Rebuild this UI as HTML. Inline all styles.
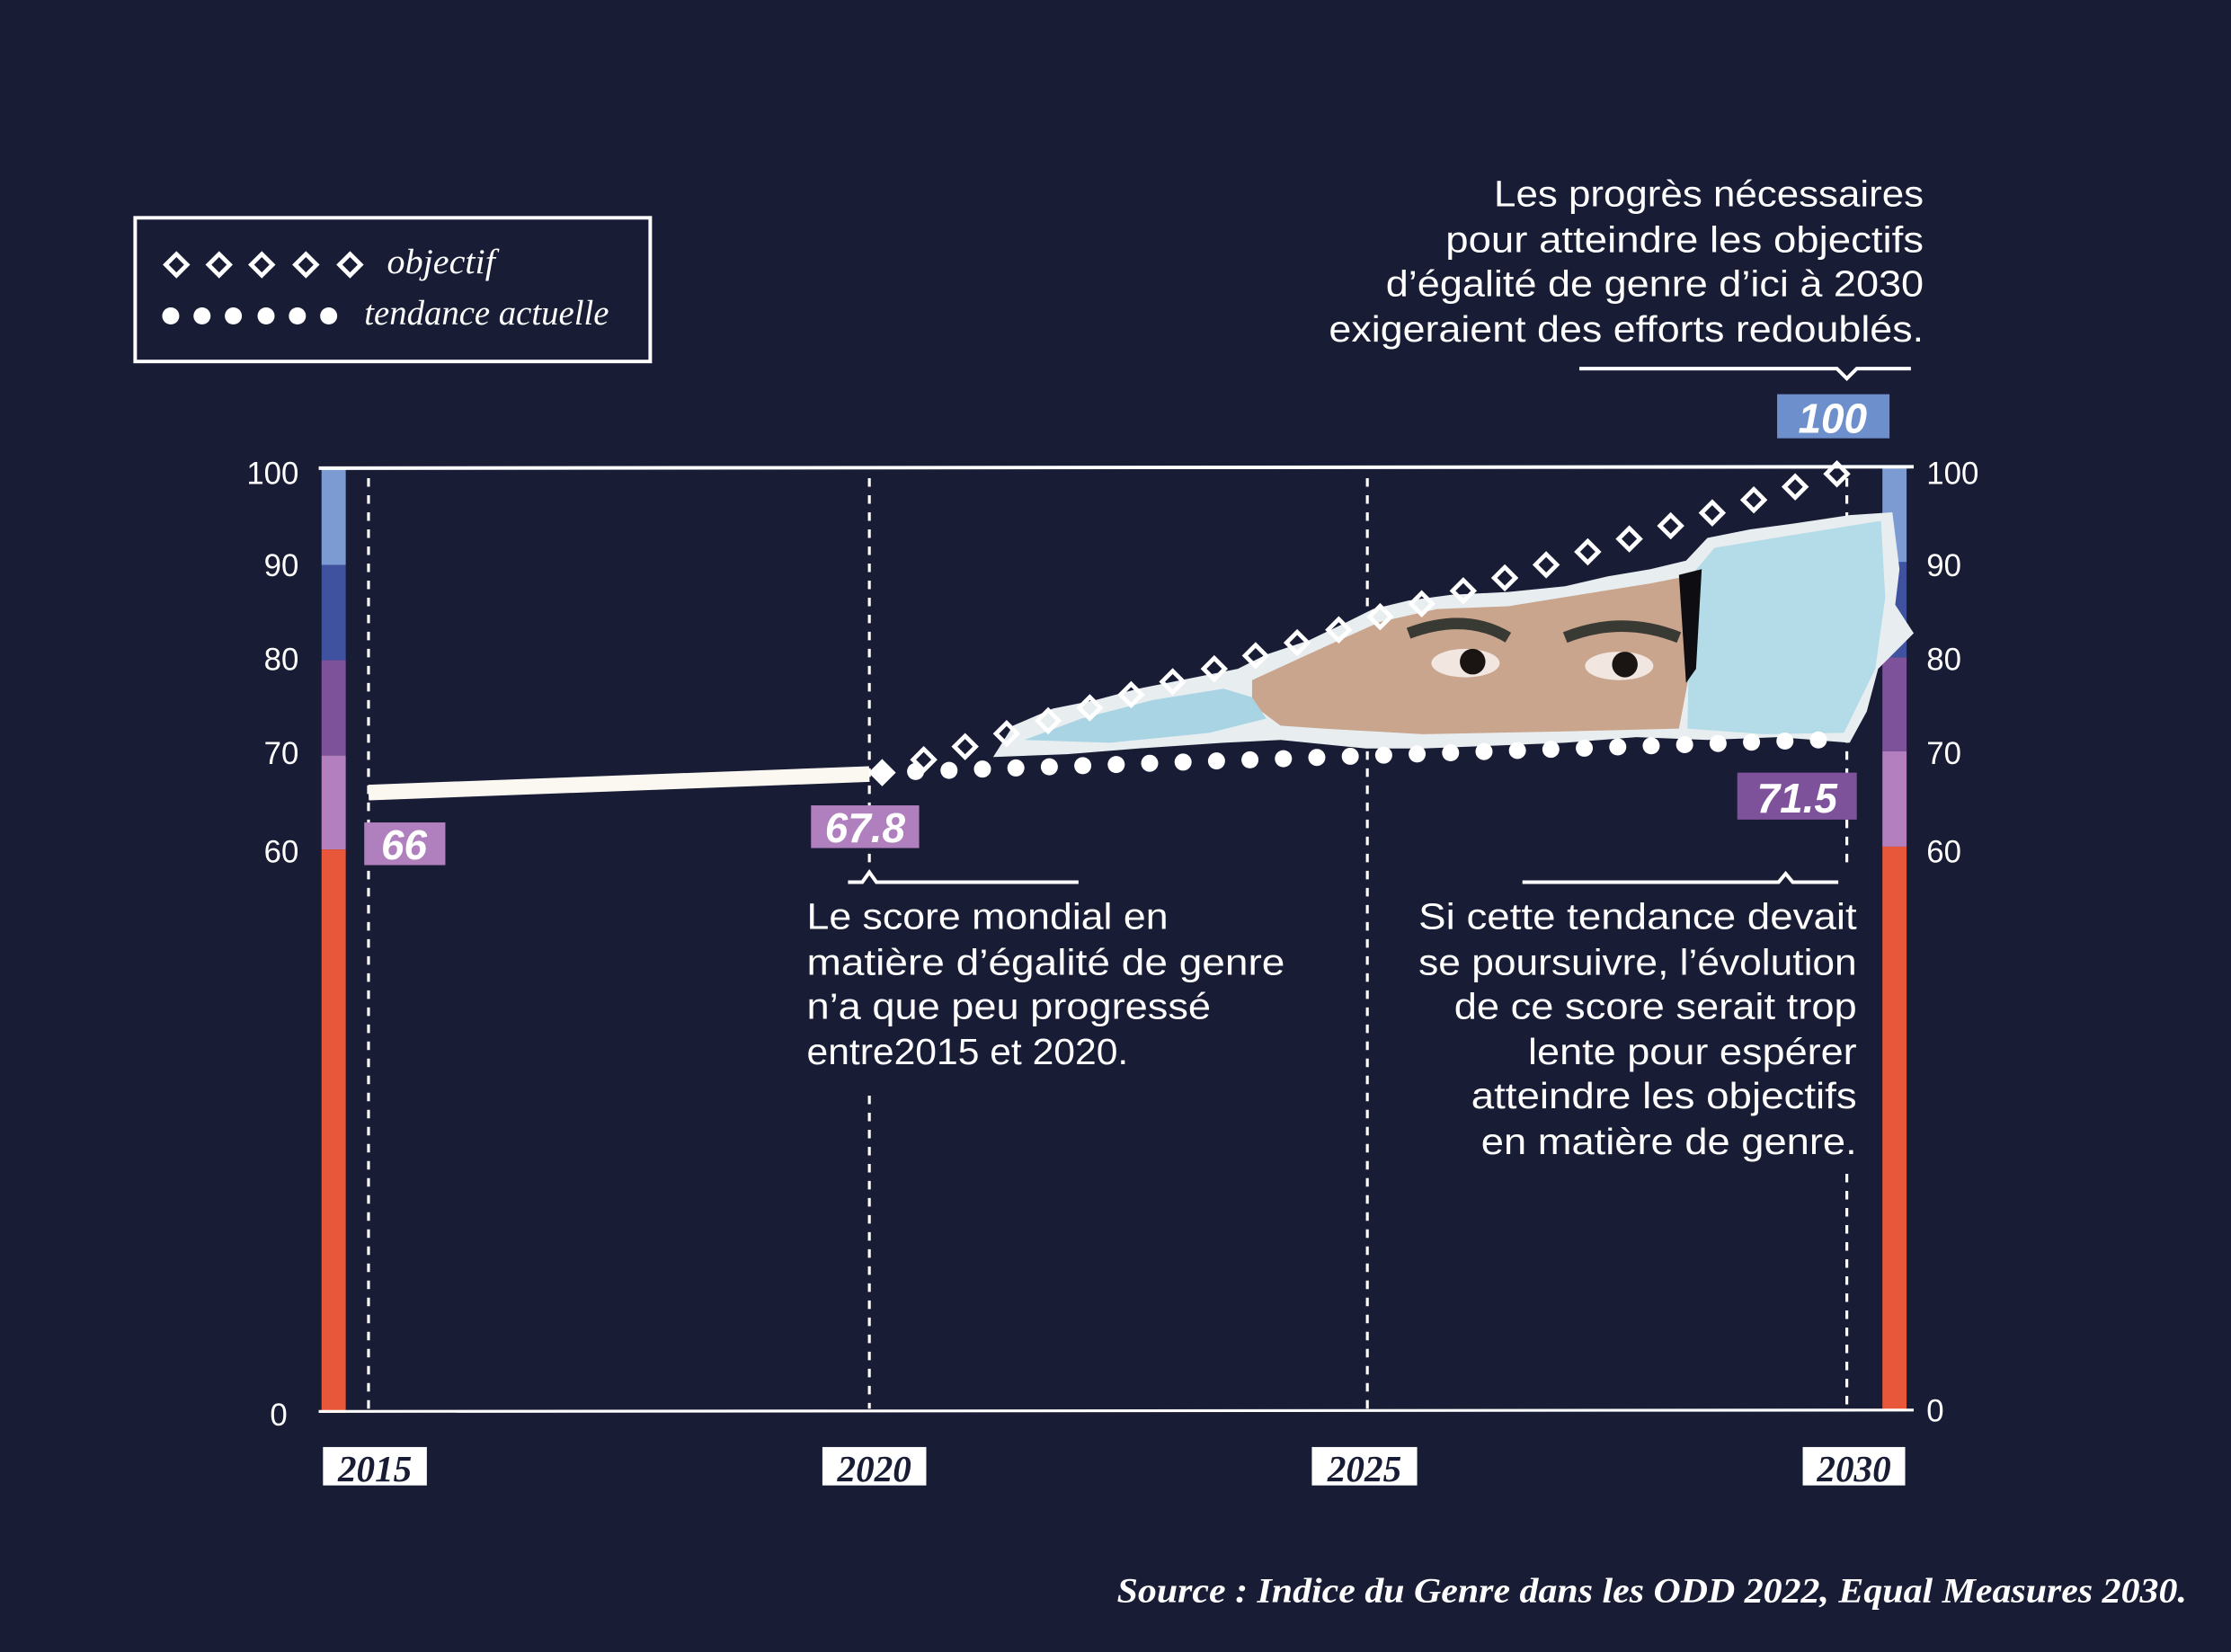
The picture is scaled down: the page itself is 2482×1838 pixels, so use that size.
<!DOCTYPE html>
<html><head><meta charset="utf-8"><style>
html,body{margin:0;padding:0;background:#181c35;}
svg{display:block}
.ax{font-family:"Liberation Sans",sans-serif;font-size:22px;fill:#fff}
.ann{font-family:"Liberation Sans",sans-serif;font-size:26px;fill:#fff}
.lab{font-family:"Liberation Sans",sans-serif;font-weight:bold;font-style:italic;font-size:29px;fill:#fff}
.yr{font-family:"Liberation Serif",serif;font-weight:bold;font-style:italic;font-size:26px;fill:#181c35}
.leg{font-family:"Liberation Serif",serif;font-style:italic;font-size:25px;fill:#fff}
</style></head><body>
<svg width="2482" height="1838" viewBox="0 0 1568 1161" xmlns="http://www.w3.org/2000/svg">
<defs>
<path id="dm" d="M0,-7.5 L7.5,0 L0,7.5 L-7.5,0 Z" fill="none" stroke="#fff" stroke-width="3"/>
</defs>
<rect width="1568" height="1161" fill="#181c35"/>

<!-- legend -->
<rect x="95" y="153" width="362" height="101" fill="none" stroke="#fff" stroke-width="2.5"/>
<use href="#dm" x="124" y="186"/><use href="#dm" x="154" y="186"/><use href="#dm" x="184" y="186"/><use href="#dm" x="215" y="186"/><use href="#dm" x="246" y="186"/>
<text class="leg" x="272" y="192" textLength="76" lengthAdjust="spacingAndGlyphs">objectif</text>
<g fill="#fff"><circle cx="120" cy="222" r="6"/><circle cx="142" cy="222" r="6"/><circle cx="164" cy="222" r="6"/><circle cx="187" cy="222" r="6"/><circle cx="209" cy="222" r="6"/><circle cx="231" cy="222" r="6"/></g>
<text class="leg" x="256" y="228" textLength="172" lengthAdjust="spacingAndGlyphs">tendance actuelle</text>

<!-- top annotation -->
<g class="ann" text-anchor="end">
<text x="1352" y="145" textLength="302" lengthAdjust="spacingAndGlyphs">Les progrès nécessaires</text>
<text x="1352" y="177" textLength="336" lengthAdjust="spacingAndGlyphs">pour atteindre les objectifs</text>
<text x="1352" y="208" textLength="378" lengthAdjust="spacingAndGlyphs">d’égalité de genre d’ici à 2030</text>
<text x="1352" y="240" textLength="418" lengthAdjust="spacingAndGlyphs">exigeraient des efforts redoublés.</text>
</g>
<path d="M1110,259 H1291 L1298,266 L1305,259 H1343" fill="none" stroke="#fff" stroke-width="2.5"/>
<rect x="1249" y="277" width="79" height="31" fill="#6d8fcc"/>
<text class="lab" x="1288" y="304" text-anchor="middle">100</text>

<!-- color bars -->
<rect x="226" y="330" width="17" height="67" fill="#7b9bd2"/>
<rect x="226" y="397" width="17" height="67" fill="#3f52a0"/>
<rect x="226" y="464" width="17" height="67" fill="#7e529b"/>
<rect x="226" y="531" width="17" height="66" fill="#b37fbe"/>
<rect x="226" y="597" width="17" height="396" fill="#e8573a"/>
<rect x="1323" y="328" width="17" height="67" fill="#7b9bd2"/>
<rect x="1323" y="395" width="17" height="67" fill="#3f52a0"/>
<rect x="1323" y="462" width="17" height="66" fill="#7e529b"/>
<rect x="1323" y="528" width="17" height="67" fill="#b37fbe"/>
<rect x="1323" y="595" width="17" height="396" fill="#e8573a"/>

<line x1="224" y1="329" x2="1345" y2="328" stroke="#fff" stroke-width="2.5"/>
<line x1="224" y1="992" x2="1345" y2="991" stroke="#fff" stroke-width="2"/>

<!-- dashed verticals -->
<g stroke="#fff" stroke-width="2" stroke-dasharray="6,6">
<line x1="259" y1="336" x2="259" y2="990"/>
<line x1="611" y1="336" x2="611" y2="615"/>
<line x1="611" y1="770" x2="611" y2="990"/>
<line x1="961" y1="336" x2="961" y2="990"/>
<line x1="1298" y1="336" x2="1298" y2="610"/>
<line x1="1298" y1="825" x2="1298" y2="990"/>
</g>

<!-- axis labels -->
<g class="ax" text-anchor="end">
<text x="210" y="340">100</text><text x="210" y="405">90</text><text x="210" y="471">80</text><text x="210" y="537">70</text><text x="210" y="606">60</text><text x="202" y="1002">0</text>
</g>
<g class="ax">
<text x="1354" y="340">100</text><text x="1354" y="405">90</text><text x="1354" y="471">80</text><text x="1354" y="537">70</text><text x="1354" y="606">60</text><text x="1354" y="999">0</text>
</g>

<!-- torn paper -->
<path d="M698,532 L712,510 L740,498 L770,492 L800,484 L830,478 L870,470 L890,460 L920,450 L945,438 L965,428 L990,422 L1020,418 L1060,416 L1100,412 L1130,405 L1160,400 L1185,394 L1200,378 L1230,372 L1260,368 L1300,362 L1330,360 L1335,400 L1332,425 L1345,445 L1335,455 L1320,470 L1312,500 L1300,522 L1250,518 L1200,520 L1150,518 L1100,522 L1050,524 L1000,526 L960,526 L900,520 L860,522 L800,526 L750,530 Z" fill="#e8edf0"/>
<path d="M880,478 L930,455 L970,437 L1010,428 L1060,426 L1110,418 L1160,410 L1185,405 L1188,470 L1180,512 L1100,514 L1000,516 L930,512 L900,510 L880,495 Z" fill="#c9a58e"/>
<path d="M720,520 L760,505 L810,492 L860,484 L880,490 L890,505 L850,515 L780,522 Z" fill="#a8d4e4"/>
<path d="M1188,405 L1205,385 L1260,376 L1322,366 L1325,420 L1318,470 L1296,515 L1240,516 L1186,512 Z" fill="#b3dbe8"/>
<path d="M1180,404 L1196,400 L1192,470 L1185,480 Z" fill="#0d0d12"/>
<ellipse cx="1030" cy="466" rx="24" ry="10" fill="#f2e7e0"/><circle cx="1035" cy="465" r="9" fill="#1a1412"/>
<ellipse cx="1138" cy="468" rx="24" ry="10" fill="#f2e7e0"/><circle cx="1142" cy="467" r="9" fill="#1a1412"/>
<path d="M990,445 Q1030,430 1060,448" stroke="#3a3a34" stroke-width="8" fill="none"/>
<path d="M1100,448 Q1140,432 1180,448" stroke="#3a3a34" stroke-width="8" fill="none"/>

<!-- thick line -->
<line x1="259" y1="557" x2="611" y2="544" stroke="#fbf8f2" stroke-width="11"/>

<!-- dots -->
<g fill="#fff">
<circle cx="620" cy="543" r="6"/><circle cx="643.5" cy="542.2" r="6"/><circle cx="667" cy="541.4" r="6"/><circle cx="690.5" cy="540.5" r="6"/><circle cx="714" cy="539.7" r="6"/><circle cx="737.5" cy="538.9" r="6"/><circle cx="761" cy="538.1" r="6"/><circle cx="784.5" cy="537.3" r="6"/><circle cx="808" cy="536.4" r="6"/><circle cx="831.5" cy="535.6" r="6"/><circle cx="855" cy="534.8" r="6"/><circle cx="878.5" cy="534" r="6"/><circle cx="902" cy="533.2" r="6"/><circle cx="925.5" cy="532.3" r="6"/><circle cx="949" cy="531.5" r="6"/><circle cx="972.5" cy="530.7" r="6"/><circle cx="996" cy="529.9" r="6"/><circle cx="1019.5" cy="529" r="6"/><circle cx="1043" cy="528.2" r="6"/><circle cx="1066.5" cy="527.4" r="6"/><circle cx="1090" cy="526.6" r="6"/><circle cx="1113.5" cy="525.8" r="6"/><circle cx="1137" cy="524.9" r="6"/><circle cx="1160.5" cy="524.1" r="6"/><circle cx="1184" cy="523.3" r="6"/><circle cx="1207.5" cy="522.5" r="6"/><circle cx="1231" cy="521.6" r="6"/><circle cx="1254.5" cy="520.8" r="6"/><circle cx="1278" cy="520" r="6"/>
</g>
<!-- diamonds -->
<g>
<use href="#dm" x="620" y="543"/><use href="#dm" x="649.2" y="533.9"/><use href="#dm" x="678.3" y="524.7"/><use href="#dm" x="707.5" y="515.6"/><use href="#dm" x="736.7" y="506.5"/><use href="#dm" x="765.9" y="497.4"/><use href="#dm" x="795" y="488.2"/><use href="#dm" x="824.2" y="479.1"/><use href="#dm" x="853.4" y="470"/><use href="#dm" x="882.5" y="460.8"/><use href="#dm" x="911.7" y="451.7"/><use href="#dm" x="940.9" y="442.6"/><use href="#dm" x="970" y="433.4"/><use href="#dm" x="999.2" y="424.3"/><use href="#dm" x="1028.4" y="415.2"/><use href="#dm" x="1057.6" y="406.1"/><use href="#dm" x="1086.7" y="396.9"/><use href="#dm" x="1115.9" y="387.8"/><use href="#dm" x="1145.1" y="378.7"/><use href="#dm" x="1174.2" y="369.5"/><use href="#dm" x="1203.4" y="360.4"/><use href="#dm" x="1232.6" y="351.3"/><use href="#dm" x="1261.7" y="342.1"/><use href="#dm" x="1291" y="333"/>
</g>

<!-- value labels -->
<rect x="256" y="578" width="57" height="30" fill="#b07fbd"/>
<text class="lab" x="284" y="604" text-anchor="middle">66</text>
<rect x="570" y="566" width="76" height="30" fill="#b07fbd"/>
<text class="lab" x="608" y="592" text-anchor="middle" font-size="27">67.8</text>
<rect x="1221" y="543" width="84" height="33" fill="#7e529b"/>
<text class="lab" x="1263" y="571" text-anchor="middle">71.5</text>

<!-- middle annotation -->
<path d="M596,620 H606 L611,613 L616,620 H758" fill="none" stroke="#fff" stroke-width="2.5"/>
<g class="ann">
<text x="567" y="653" textLength="254" lengthAdjust="spacingAndGlyphs">Le score mondial en</text>
<text x="567" y="685" textLength="336" lengthAdjust="spacingAndGlyphs">matière d’égalité de genre</text>
<text x="567" y="716" textLength="284" lengthAdjust="spacingAndGlyphs">n’a que peu progressé</text>
<text x="567" y="748" textLength="226" lengthAdjust="spacingAndGlyphs">entre2015 et 2020.</text>
</g>

<!-- right annotation -->
<path d="M1070,620 H1250 L1255,614 L1260,620 H1292" fill="none" stroke="#fff" stroke-width="2.5"/>
<g class="ann" text-anchor="end">
<text x="1305" y="653" textLength="308" lengthAdjust="spacingAndGlyphs">Si cette tendance devait</text>
<text x="1305" y="685" textLength="308" lengthAdjust="spacingAndGlyphs">se poursuivre, l’évolution</text>
<text x="1305" y="716" textLength="283" lengthAdjust="spacingAndGlyphs">de ce score serait trop</text>
<text x="1305" y="748" textLength="231" lengthAdjust="spacingAndGlyphs">lente pour espérer</text>
<text x="1305" y="779" textLength="271" lengthAdjust="spacingAndGlyphs">atteindre les objectifs</text>
<text x="1305" y="811" textLength="264" lengthAdjust="spacingAndGlyphs">en matière de genre.</text>
</g>

<!-- year labels -->
<rect x="227" y="1017" width="73" height="27" fill="#fff"/><text class="yr" x="263.5" y="1041" text-anchor="middle">2015</text>
<rect x="578" y="1017" width="73" height="27" fill="#fff"/><text class="yr" x="614.5" y="1041" text-anchor="middle">2020</text>
<rect x="922" y="1017" width="74" height="27" fill="#fff"/><text class="yr" x="959" y="1041" text-anchor="middle">2025</text>
<rect x="1267" y="1017" width="72" height="27" fill="#fff"/><text class="yr" x="1303" y="1041" text-anchor="middle">2030</text>

<text x="1537" y="1126" text-anchor="end" font-family="Liberation Serif, serif" font-weight="bold" font-style="italic" font-size="25" fill="#fff" textLength="752" lengthAdjust="spacingAndGlyphs">Source : Indice du Genre dans les ODD 2022, Equal Measures 2030.</text>
</svg>
</body></html>
